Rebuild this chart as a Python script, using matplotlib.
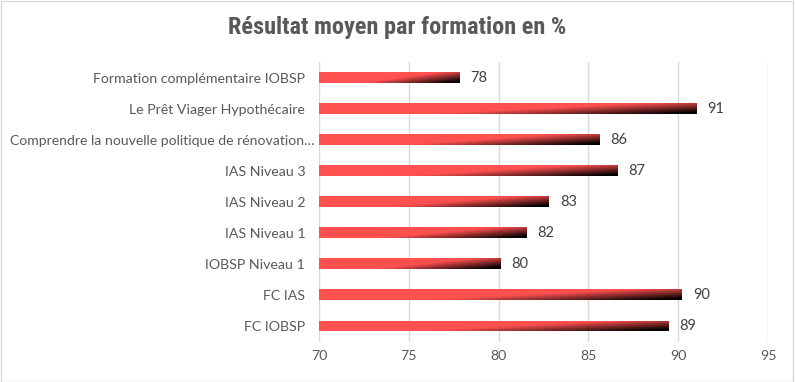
import numpy as np
import matplotlib
matplotlib.use("Agg")
import matplotlib.pyplot as plt
from matplotlib.patches import Rectangle

# ==================== DATA ====================
formations = [
    "Formation complémentaire IOBSP",
    "Le Prêt Viager Hypothécaire",
    "Comprendre la nouvelle politique de rénovation…",
    "IAS Niveau 3",
    "IAS Niveau 2",
    "IAS Niveau 1",
    "IOBSP Niveau 1",
    "FC IAS",
    "FC IOBSP",
]
scores = [77.8, 91.0, 85.6, 86.6, 82.8, 81.55, 80.1, 90.2, 89.45]
x_ticks = [70, 75, 80, 85, 90, 95]

TXT = "#595959"
RED = np.array([255, 80, 80]) / 255.0


def gradient_img(nx=300, ny=24):
    """Diagonal red -> black fill, darker toward the bottom right."""
    u = np.linspace(0, 1, nx)[None, :]
    v = np.linspace(0, 1, ny)[:, None]
    t = 0.645 * u + 0.355 * v
    s = np.clip((t - 0.55) / 0.4, 0, 1)
    img = (1 - s)[..., None] * RED[None, None, :]
    return img


plt.rcParams['font.family'] = ['Lato', 'DejaVu Sans']

fig = plt.figure(figsize=(7.95, 3.82), dpi=100)
ax = fig.add_axes([0.4013, 0.106, 0.5648, 0.7317])

n = len(formations)
ys = np.arange(n)[::-1]
h = 0.35
bars = ax.barh(ys, [s - 70 for s in scores], left=70, height=h,
               color="none", edgecolor="none")
img = gradient_img()
for bar, y, s in zip(bars, ys, scores):
    im = ax.imshow(img, extent=(70, s, y - h / 2, y + h / 2),
                   aspect="auto", origin="upper", interpolation="bilinear",
                   zorder=2)
    im.set_clip_path(bar)
    ax.text(s + 0.62, y, f"{round(s)}", va="center", ha="left",
            fontsize=10.5, color="#404040")

ax.set_xlim(70, 95)
ax.set_ylim(-0.5, n - 0.5)
ax.set_xticks(x_ticks)
ax.set_yticks(ys, formations)
ax.tick_params(axis="both", length=0, colors=TXT, labelsize=10.2)
ax.tick_params(axis="y", pad=10)
ax.tick_params(axis="x", pad=6)
ax.grid(axis="x", color="#D9D9D9", linewidth=1)
ax.set_axisbelow(True)
for sp in ax.spines.values():
    sp.set_visible(False)

# the truncated label sits closer to the axis, as in the original
for lab in ax.get_yticklabels():
    if lab.get_text().endswith("…"):
        lab.set_x(0.022)
        lab.set_fontsize(10.1)

fig.text(0.5, 0.927, "Résultat moyen par formation en %", ha="center",
         va="center", fontsize=17.5, fontweight="bold", color=TXT,
         family=['Roboto Condensed', 'Roboto', 'DejaVu Sans'])

fig.patches.append(Rectangle((0.001, 0.001), 0.997, 0.996, transform=fig.transFigure,
                             fill=False, edgecolor="#D9D9D9", linewidth=1))

fig.savefig("out.png", dpi=100)
